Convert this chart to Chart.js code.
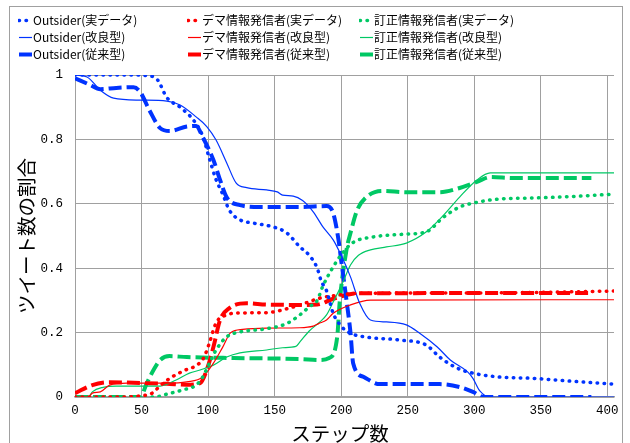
<!DOCTYPE html>
<html>
<head>
<meta charset="utf-8">
<script src="https://cdn.jsdelivr.net/npm/chart.js@4.4.0/dist/chart.umd.min.js"></script>
<style>
  html, body { margin: 0; padding: 0; background: #fff; }
  #wrap { position: relative; width: 630px; height: 443px; overflow: hidden; }
  #frame { position: absolute; left: 9px; top: 6px; width: 612px; height: 460px; border: 1px solid #a0a0a0; }
  canvas { position: absolute; left: 0; top: 0; }
</style>
</head>
<body>
<div id="wrap">
  <div id="frame"></div>
  <canvas id="myChart" width="630" height="443"></canvas>
</div>
<script>
'use strict';

// x axis ticks / y axis ticks
let xTicks = [0, 50, 100, 150, 200, 250, 300, 350, 400];
let yTicks = [0, 0.2, 0.4, 0.6, 0.8, 1];
let yTickLabels = ['0', '0.2', '0.4', '0.6', '0.8', '1'];
let xTitle = 'ステップ数';
let yTitle = 'ツイート数の割合';

let seriesLabels = [
    'Outsider(実データ)', 'デマ情報発信者(実データ)', '訂正情報発信者(実データ)',
    'Outsider(改良型)', 'デマ情報発信者(改良型)', '訂正情報発信者(改良型)',
    'Outsider(従来型)', 'デマ情報発信者(従来型)', '訂正情報発信者(従来型)'
];

// Outsider
let outsiderRealSteps = [0, 20, 40, 55, 62, 69, 79, 89, 96, 101, 106, 111, 116, 124, 134, 149, 159, 169, 176, 182, 185, 189, 194, 200, 207, 219, 244, 264, 274, 287, 299, 319, 344, 370, 405];
let outsiderRealValues = [1, 1, 1, 0.998, 0.985, 0.93, 0.9, 0.86, 0.81, 0.74, 0.675, 0.63, 0.58, 0.55, 0.54, 0.528, 0.51, 0.466, 0.44, 0.4, 0.36, 0.33, 0.26, 0.22, 0.198, 0.186, 0.177, 0.161, 0.124, 0.09, 0.074, 0.062, 0.058, 0.05, 0.04];

let outsiderNewSteps = [0, 9, 19, 29, 49, 69, 79, 91, 99, 106, 114, 121, 129, 144, 152, 156, 164, 171, 179, 186, 194, 200, 207, 214, 222, 234, 249, 259, 272, 282, 295, 299, 304, 312, 405];
let outsiderNewValues = [1, 0.994, 0.953, 0.928, 0.922, 0.919, 0.907, 0.87, 0.84, 0.798, 0.727, 0.665, 0.65, 0.643, 0.637, 0.627, 0.624, 0.61, 0.575, 0.53, 0.488, 0.44, 0.373, 0.29, 0.239, 0.233, 0.224, 0.198, 0.156, 0.115, 0.078, 0.058, 0.02, 0, 0];

let outsiderOldSteps = [0, 11, 19, 31, 44, 49, 56, 64, 71, 84, 91, 96, 104, 109, 114, 124, 139, 169, 189, 194, 198, 200, 204, 207, 209, 217, 229, 274, 289, 299, 307, 388];
let outsiderOldValues = [0.99, 0.97, 0.956, 0.96, 0.962, 0.947, 0.89, 0.835, 0.826, 0.84, 0.842, 0.807, 0.736, 0.674, 0.62, 0.596, 0.59, 0.59, 0.593, 0.571, 0.488, 0.425, 0.3, 0.2, 0.105, 0.062, 0.04, 0.04, 0.031, 0.016, 0, 0];

// デマ情報発信者
let demaRealSteps = [0, 35, 50, 58, 64, 72, 82, 92, 97, 101, 106, 114, 124, 144, 161, 174, 184, 199, 214, 300, 350, 405];
let demaRealValues = [0, 0, 0.004, 0.012, 0.035, 0.06, 0.082, 0.1, 0.124, 0.168, 0.23, 0.255, 0.261, 0.262, 0.276, 0.293, 0.307, 0.317, 0.322, 0.323, 0.325, 0.329];

let demaNewSteps = [0, 10, 13, 19, 26, 39, 69, 84, 96, 104, 111, 117, 126, 144, 169, 179, 183, 189, 194, 207, 222, 405];
let demaNewValues = [0, 0, 0.012, 0.016, 0.037, 0.043, 0.043, 0.047, 0.062, 0.105, 0.155, 0.2, 0.21, 0.214, 0.215, 0.22, 0.228, 0.239, 0.26, 0.286, 0.301, 0.302];

let demaOldSteps = [0, 13, 26, 44, 69, 84, 94, 99, 104, 109, 116, 129, 144, 169, 182, 194, 212, 388];
let demaOldValues = [0.012, 0.037, 0.046, 0.044, 0.041, 0.038, 0.043, 0.084, 0.155, 0.239, 0.276, 0.291, 0.287, 0.286, 0.287, 0.305, 0.322, 0.323];

// 訂正情報発信者
let teiseiRealSteps = [0, 60, 69, 81, 91, 96, 101, 106, 114, 124, 144, 159, 169, 176, 182, 186, 192, 201, 209, 224, 249, 264, 277, 289, 299, 319, 344, 370, 405];
let teiseiRealValues = [0, 0, 0.009, 0.022, 0.037, 0.062, 0.105, 0.146, 0.187, 0.202, 0.212, 0.228, 0.255, 0.28, 0.3, 0.342, 0.39, 0.447, 0.48, 0.497, 0.506, 0.513, 0.559, 0.59, 0.602, 0.615, 0.618, 0.622, 0.63];

let teiseiNewSteps = [0, 10, 13, 21, 31, 64, 76, 86, 94, 104, 114, 124, 144, 156, 166, 169, 176, 184, 189, 194, 201, 207, 213, 222, 234, 249, 264, 277, 289, 302, 312, 405];
let teiseiNewValues = [0, 0, 0.016, 0.03, 0.034, 0.034, 0.053, 0.074, 0.084, 0.099, 0.124, 0.137, 0.146, 0.153, 0.157, 0.171, 0.205, 0.233, 0.255, 0.295, 0.354, 0.41, 0.44, 0.457, 0.466, 0.478, 0.513, 0.565, 0.621, 0.674, 0.696, 0.696];

let teiseiOldSteps = [0, 49, 54, 59, 64, 71, 84, 119, 169, 184, 191, 197, 199, 204, 207, 212, 219, 231, 249, 274, 289, 302, 312, 330, 388];
let teiseiOldValues = [0, 0, 0.043, 0.084, 0.115, 0.127, 0.124, 0.121, 0.118, 0.115, 0.121, 0.186, 0.3, 0.457, 0.509, 0.58, 0.621, 0.64, 0.636, 0.636, 0.649, 0.668, 0.683, 0.68, 0.68];

let blue = '#0033ff';
let red = '#ff0000';
let green = '#00c864';

function toPoints(steps, values) {
    let pts = [];
    for (let i = 0; i < steps.length; i++) {
        pts.push({ x: steps[i], y: values[i] });
    }
    return pts;
}

let dotStyle = { borderWidth: 3.5, borderDash: [0.5, 6.5], borderCapStyle: 'round' };
let thinStyle = { borderWidth: 1.2, borderDash: [], borderCapStyle: 'butt' };
let dashStyle = { borderWidth: 4, borderDash: [13, 5], borderCapStyle: 'butt' };

function makeSet(label, steps, values, color, style) {
    return Object.assign({
        label: label,
        data: toPoints(steps, values),
        borderColor: color,
        backgroundColor: color,
        pointRadius: 0,
        fill: false,
        cubicInterpolationMode: 'monotone'
    }, style);
}

let datasets = [
    makeSet(seriesLabels[0], outsiderRealSteps, outsiderRealValues, blue, dotStyle),
    makeSet(seriesLabels[1], demaRealSteps, demaRealValues, red, dotStyle),
    makeSet(seriesLabels[2], teiseiRealSteps, teiseiRealValues, green, dotStyle),
    makeSet(seriesLabels[3], outsiderNewSteps, outsiderNewValues, blue, thinStyle),
    makeSet(seriesLabels[4], demaNewSteps, demaNewValues, red, thinStyle),
    makeSet(seriesLabels[5], teiseiNewSteps, teiseiNewValues, green, thinStyle),
    makeSet(seriesLabels[6], outsiderOldSteps, outsiderOldValues, blue, dashStyle),
    makeSet(seriesLabels[7], demaOldSteps, demaOldValues, red, dashStyle),
    makeSet(seriesLabels[8], teiseiOldSteps, teiseiOldValues, green, dashStyle)
];

// legend drawn as a 3x3 grid like the original
let legendGrid = {
    id: 'legendGrid',
    afterDraw(chart) {
        let ctx = chart.ctx;
        let colX = [18, 187, 359];
        let rowY = [20, 37, 54];
        chart.data.datasets.forEach(function (ds, i) {
            let x = colX[i % 3];
            let y = rowY[Math.floor(i / 3)];
            ctx.save();
            ctx.beginPath();
            ctx.rect(x, y - 4, 14, 8);
            ctx.clip();
            ctx.strokeStyle = ds.borderColor;
            ctx.lineWidth = ds.borderWidth;
            ctx.lineCap = ds.borderCapStyle;
            ctx.setLineDash(ds.borderDash);
            ctx.beginPath();
            ctx.moveTo(x + 1, y + 0.5);
            ctx.lineTo(x + 14, y + 0.5);
            ctx.stroke();
            ctx.restore();
            ctx.save();
            ctx.fillStyle = '#000';
            ctx.font = '12px "Noto Sans CJK JP"';
            ctx.textBaseline = 'middle';
            ctx.fillText(ds.label, x + 15, y);
            ctx.restore();
        });
    }
};

// axis titles placed where the original has them
let axisTitles = {
    id: 'axisTitles',
    afterDraw(chart) {
        let ctx = chart.ctx;
        ctx.save();
        ctx.fillStyle = '#000';
        ctx.font = '19.5px "Noto Sans CJK JP"';
        ctx.textAlign = 'center';
        ctx.textBaseline = 'middle';
        ctx.fillText(xTitle, 340, 434);
        ctx.translate(27, 236);
        ctx.rotate(-Math.PI / 2);
        ctx.fillText(yTitle, 0, 0);
        ctx.restore();
    }
};

let ctx = document.getElementById('myChart').getContext('2d');
let myChart = new Chart(ctx, {
    type: 'line',
    data: { datasets: datasets },
    plugins: [legendGrid, axisTitles],
    options: {
        responsive: false,
        animation: false,
        layout: { padding: { left: 0, top: 75, right: 16, bottom: 0 } },
        plugins: {
            legend: { display: false },
            tooltip: { enabled: false }
        },
        scales: {
            x: {
                type: 'linear',
                min: 0,
                max: 405,
                afterBuildTicks: function (scale) {
                    scale.ticks = xTicks.map(function (v) { return { value: v }; });
                },
                afterFit: function (scale) { scale.height = 46; },
                ticks: {
                    color: '#000',
                    padding: 6,
                    maxRotation: 0,
                    font: { family: '"Liberation Mono"', size: 12.5 },
                    callback: function (value) { return String(value); }
                },
                grid: { color: '#a0a0a0', drawTicks: false },
                border: { color: '#a0a0a0', width: 1.5 }
            },
            y: {
                min: 0,
                max: 1,
                afterBuildTicks: function (scale) {
                    scale.ticks = yTicks.map(function (v) { return { value: v }; });
                },
                afterFit: function (scale) { scale.width = 75; },
                ticks: {
                    color: '#000',
                    padding: 12,
                    font: { family: '"Liberation Mono"', size: 12.5 },
                    callback: function (value, index) { return yTickLabels[index]; }
                },
                grid: { color: '#a0a0a0', drawTicks: false },
                border: { color: '#a0a0a0', width: 1 }
            }
        }
    }
});
</script>
</body>
</html>
